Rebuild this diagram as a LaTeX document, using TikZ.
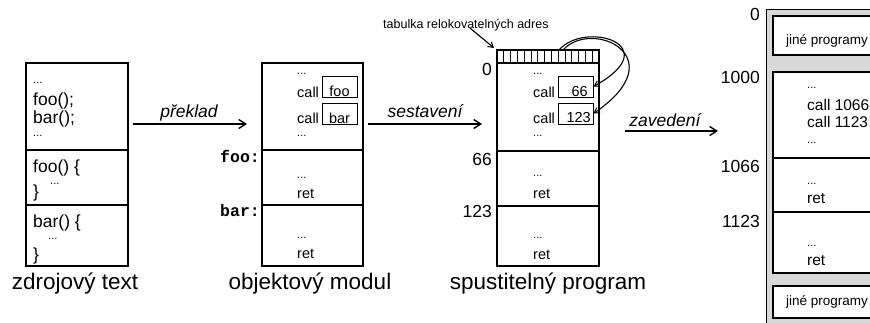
\documentclass[tikz,border=0pt]{standalone}
\usepackage{fontspec}
\setmainfont{Liberation Sans}
\setmonofont{Liberation Mono}
\usetikzlibrary{arrows.meta}
\newcommand\myfs[1]{\fontsize{#1}{#1}\selectfont}
\definecolor{memgray}{RGB}{216,216,216}
\tikzset{
  box/.style={draw, line width=1.2pt},
  slot/.style={draw, line width=1pt, inner sep=0pt},
  txt/.style={inner sep=0pt, anchor=base west, font=\myfs{14.5}},
  rtxt/.style={inner sep=0pt, anchor=base west, font=\myfs{15.5}},
  srct/.style={inner sep=0pt, anchor=base west, font=\myfs{17.5}},
  dots/.style={inner sep=0pt, anchor=base west, font=\myfs{11}},
  addr/.style={inner sep=0pt, anchor=base east, font=\myfs{17.5}},
  labtxt/.style={inner sep=0pt, anchor=base west, font=\ttfamily\bfseries\myfs{16.5}},
  captxt/.style={inner sep=0pt, anchor=base, font=\myfs{22.5}},
  arrlbl/.style={inner sep=0pt, anchor=base, font=\itshape\myfs{17.5}},
  bigarrow/.style={line width=2pt, -{Straight Barb[length=7pt,width=9pt,line width=1.4pt]}},
  thinarrow/.style={line width=1.1pt, -{Straight Barb[length=5pt,width=6pt,line width=1pt]}},
}
\begin{document}
\begin{tikzpicture}[x=1pt,y=-1pt]
\useasboundingbox (0,0) rectangle (870,322);
\clip (0,0) rectangle (870,322);

% ---------- source text ----------
\draw[box] (26,63) rectangle (128,266);
\draw[box] (26,150) -- (128,150);
\draw[box] (26,205) -- (128,205);
\node[dots] (s1) at (33,83) {...};
\node[srct] (s2) at (33,105) {foo();};
\node[srct] (s3) at (33,123) {bar();};
\node[dots] (s4) at (33,136) {...};
\node[srct] (s5) at (33,172) {foo() \{};
\node[dots] (s6) at (50,184) {...};
\node[srct] (s7) at (33,197) {\}};
\node[srct] (s8) at (33,227) {bar() \{};
\node[dots] (s9) at (48,239) {...};
\node[srct] (s10) at (33,260) {\}};
\node[captxt] (c1) at (75,289) {zdrojový text};

% ---------- object module ----------
\draw[box] (262,63) rectangle (363,266);
\draw[box] (262,150) -- (363,150);
\draw[box] (262,205) -- (363,205);
\node[dots] (o1) at (297,74) {...};
\node[txt] (o2) at (297,97) {call};
\node[slot, minimum width=35, minimum height=21] (bfoo) at (339.5,86.5) {};
\node[txt, anchor=base] (o2a) at (339.5,96) {foo};
\node[txt] (o3) at (297,123) {call};
\node[slot, minimum width=35, minimum height=21] (bbar) at (339.5,113.5) {};
\node[txt, anchor=base] (o3a) at (339.5,123) {bar};
\node[dots] (o4) at (297,136) {...};
\node[labtxt] (lfoo) at (220,162) {foo:};
\node[dots] (o5) at (297,178) {...};
\node[txt] (o6) at (297,198) {ret};
\node[labtxt] (lbar) at (220,216) {bar:};
\node[dots] (o7) at (297,238) {...};
\node[txt] (o8) at (297,258) {ret};
\node[captxt] (c2) at (310,289) {objektový modul};

% ---------- executable ----------
\draw[box] (497,50) rectangle (599,63);
\foreach \i in {1,...,14} {\draw[line width=1pt] (497+6.8*\i,50) -- (497+6.8*\i,63);}
\coordinate (tabA) at (559,50);
\coordinate (tabB) at (563,50);
\coordinate (tabL) at (494,48);
\draw[box] (497,63) rectangle (599,266);
\draw[box] (497,151) -- (599,151);
\draw[box] (497,206) -- (599,206);
\node[addr] (a0) at (492,75) {0};
\node[addr] (a66) at (492,165) {66};
\node[addr] (a123) at (492,217) {123};
\node[dots] (e1) at (533,74) {...};
\node[txt] (e2) at (533,97) {call};
\node[slot, minimum width=35, minimum height=21] (b66) at (575.5,86.5) {};
\node[txt, anchor=base east] (e2a) at (588,96) {66};
\node[txt] (e3) at (533,123) {call};
\node[slot, minimum width=35, minimum height=21] (b123) at (575.5,113.5) {};
\node[txt, anchor=base east] (e3a) at (591,122) {123};
\node[dots] (e4) at (533,136) {...};
\node[dots] (e5) at (533,176) {...};
\node[txt] (e6) at (533,198) {ret};
\node[dots] (e7) at (533,238) {...};
\node[txt] (e8) at (533,259) {ret};
\node[captxt] (c3) at (548,289) {spustitelný program};
\node[inner sep=0pt, anchor=base west, font=\myfs{12.5}] (tl) at (383,28) {tabulka relokovatelných adres};
\coordinate (tlA) at (470,28);
\draw[thinarrow] (tlA) -- (tabL);
\draw[line width=1.1pt, -{Straight Barb[length=5pt,width=6pt,line width=1pt]}]
  (tabA) .. controls (585,20) and (668,45) .. (b66.east);
\draw[line width=1.1pt, -{Straight Barb[length=5pt,width=6pt,line width=1pt]}]
  (tabB) .. controls (592,18) and (676,57) .. (b123.east);

% ---------- memory ----------
\draw[fill=memgray, line width=1pt] (766,9) rectangle (880,330);
\draw[fill=white, line width=1.4pt] (773,16) rectangle (880,55);
\node[inner sep=0pt, anchor=base west, font=\myfs{13.5}] (j1) at (786,44) {jiné programy};
\draw[fill=white, line width=2pt] (773,72) rectangle (880,273);
\draw[line width=1.4pt] (773,158) -- (880,158);
\draw[line width=1.4pt] (773,212) -- (880,212);
\draw[fill=white, line width=1.4pt] (773,286) rectangle (880,318);
\node[inner sep=0pt, anchor=base west, font=\myfs{13.5}] (j2) at (786,305) {jiné programy};
\node[addr] (m0) at (760,20) {0};
\node[addr] (m1) at (760,83) {1000};
\node[addr] (m2) at (760,172) {1066};
\node[addr] (m3) at (760,227) {1123};
\node[dots] (r1) at (807,88) {...};
\node[rtxt] (r2) at (807,110) {call 1066};
\node[rtxt] (r3) at (807,127) {call 1123};
\node[dots] (r4) at (807,143) {...};
\node[dots] (r5) at (807,184) {...};
\node[rtxt] (r6) at (807,203) {ret};
\node[dots] (r7) at (807,246) {...};
\node[rtxt] (r8) at (807,265) {ret};

% ---------- process arrows ----------
\coordinate (p1s) at (133,124); \coordinate (p1e) at (247,124);
\coordinate (p2s) at (368,124); \coordinate (p2e) at (482,124);
\coordinate (p3s) at (625,131); \coordinate (p3e) at (718,131);
\draw[bigarrow] (p1s) -- (p1e);
\draw[bigarrow] (p2s) -- (p2e);
\draw[bigarrow] (p3s) -- (p3e);
\node[arrlbl] (l1) at (189,117) {překlad};
\node[arrlbl] (l2) at (425,117) {sestavení};
\node[arrlbl] (l3) at (665,126) {zavedení};
\end{tikzpicture}
\end{document}
